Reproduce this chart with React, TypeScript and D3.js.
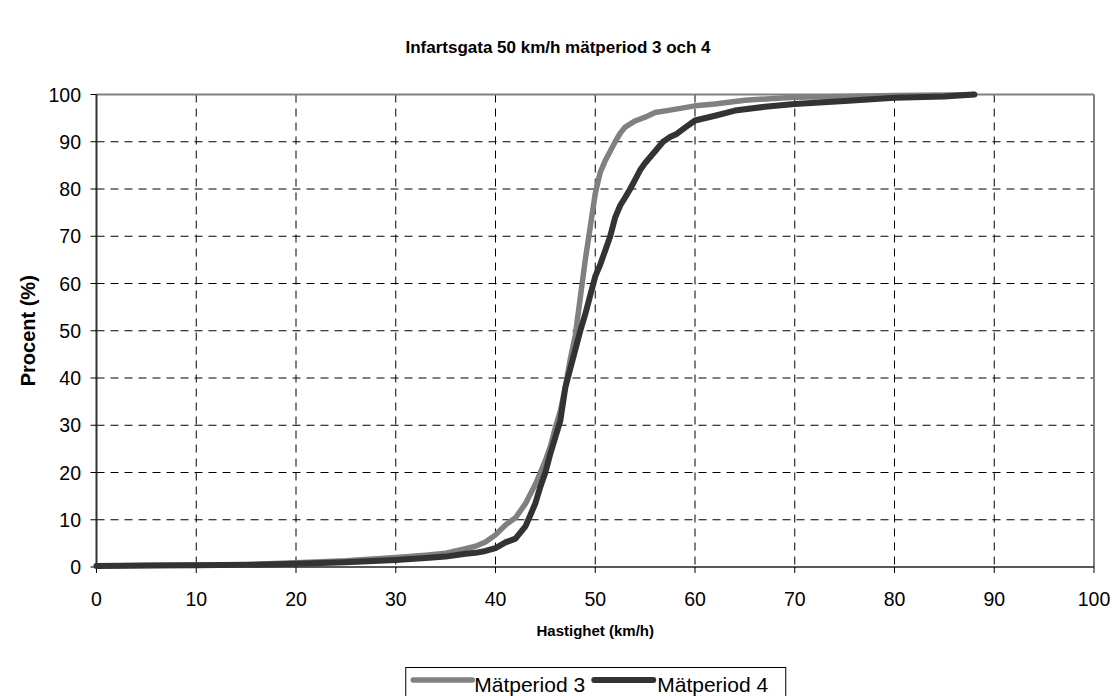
import React from "react";
import * as d3 from "d3";

// Cumulative speed distributions (km/h -> cumulative share in %)
const speedP3 = [0, 5, 10, 15, 20, 25, 30, 33, 35, 37, 38, 39, 40, 41, 42, 43, 44, 44.5, 45, 45.5, 46, 46.5, 47, 47.5, 48, 48.5, 49, 49.5, 50, 50.5, 51, 51.5, 52, 52.5, 53, 54, 55, 56, 57.5, 60, 62, 65, 70, 75, 80, 85, 88];
const shareP3 = [0.2, 0.3, 0.4, 0.5, 0.9, 1.3, 2.0, 2.5, 2.9, 3.9, 4.4, 5.3, 6.8, 8.9, 10.4, 13.4, 17.5, 20, 22.5, 25.5, 29.5, 33, 38, 44, 49, 57, 65, 72, 79, 83.5, 86, 88, 90, 91.8, 93.1, 94.4, 95.2, 96.2, 96.7, 97.6, 98, 98.8, 99.4, 99.6, 99.8, 99.9, 100];

const speedP4 = [0, 5, 10, 15, 20, 25, 30, 33, 35, 37, 38, 39, 40, 41, 42, 43, 43.5, 44, 44.5, 45, 45.5, 46, 46.5, 47, 47.5, 48, 48.5, 49, 49.5, 50, 50.5, 51, 51.5, 52, 52.5, 53, 53.5, 54, 54.5, 55, 56, 56.8, 57.5, 58.2, 59, 60, 62, 64, 67, 70, 75, 80, 85, 88];
const shareP4 = [0.2, 0.3, 0.35, 0.45, 0.7, 1.0, 1.5, 1.9, 2.2, 2.8, 3.0, 3.4, 4.0, 5.2, 6.0, 8.6, 11, 13.5, 17, 20, 24, 27.5, 31, 38, 42, 46, 50, 53.5, 57.5, 61.5, 64, 67, 70, 74, 76.5, 78.2, 80, 82, 84, 85.5, 88, 90, 91, 91.7, 93, 94.5, 95.5, 96.6, 97.4, 98, 98.6, 99.3, 99.6, 100];

const xTicks = [0, 10, 20, 30, 40, 50, 60, 70, 80, 90, 100];
const yTicks = [0, 10, 20, 30, 40, 50, 60, 70, 80, 90, 100];

const seriesNames = ["Mätperiod 3", "Mätperiod 4"];
const seriesColors = ["#808080", "#333333"];
const seriesWidths = [5.5, 6];

const W = 1114;
const H = 696;
const plot = { left: 96.5, right: 1094, top: 94.5, bottom: 567 };
const FONT = "'Liberation Sans', Arial, Helvetica, sans-serif";

export default function App() {
  const x = d3.scaleLinear().domain([0, 100]).range([plot.left, plot.right]);
  const y = d3.scaleLinear().domain([0, 100]).range([plot.bottom, plot.top]);

  const line = d3
    .line<[number, number]>()
    .x((d) => x(d[0]))
    .y((d) => y(d[1]))
    .curve(d3.curveLinear);

  const series: [number, number][][] = [
    speedP3.map((s, i) => [s, shareP3[i]]),
    speedP4.map((s, i) => [s, shareP4[i]]),
  ];

  const cx = (plot.left + plot.right) / 2;
  const legendW = 380;
  const legendX = cx - legendW / 2;

  return (
    <svg
      width={W}
      height={H}
      style={{ position: "absolute", left: 0, top: 0, background: "#fff" }}
      fontFamily={FONT}
    >
      <rect x={0} y={0} width={W} height={H} fill="#fff" />

      {/* title */}
      <text x={558} y={53} textAnchor="middle" fontSize={17} fontWeight="bold" fill="#000">
        Infartsgata 50 km/h mätperiod 3 och 4
      </text>

      {/* grid */}
      {xTicks.slice(1, -1).map((t) => (
        <line
          key={"gx" + t}
          x1={x(t)}
          x2={x(t)}
          y1={plot.top}
          y2={plot.bottom}
          stroke="#000"
          strokeWidth={1}
          strokeDasharray="8,6"
        />
      ))}
      {yTicks.slice(1, -1).map((t) => (
        <line
          key={"gy" + t}
          x1={plot.left}
          x2={plot.right}
          y1={y(t)}
          y2={y(t)}
          stroke="#000"
          strokeWidth={1}
          strokeDasharray="8,6"
        />
      ))}

      {/* frame: top and right edges */}
      <line x1={plot.left} x2={plot.right} y1={plot.top} y2={plot.top} stroke="#808080" strokeWidth={2} />
      <line x1={plot.right} x2={plot.right} y1={plot.top} y2={plot.bottom} stroke="#808080" strokeWidth={2} />

      {/* axes */}
      <line x1={plot.left} x2={plot.left} y1={plot.top} y2={plot.bottom} stroke="#333" strokeWidth={2} />
      <line x1={plot.left} x2={plot.right} y1={plot.bottom} y2={plot.bottom} stroke="#222" strokeWidth={1.5} />

      {yTicks.map((t) => (
        <g key={"ty" + t}>
          <line x1={plot.left - 6} x2={plot.left} y1={y(t)} y2={y(t)} stroke="#000" strokeWidth={1} />
          <text x={81} y={y(t) + 7} textAnchor="end" fontSize={19.5} fill="#000">
            {t}
          </text>
        </g>
      ))}
      {xTicks.map((t) => (
        <g key={"tx" + t}>
          <line x1={x(t)} x2={x(t)} y1={plot.bottom} y2={plot.bottom + 6} stroke="#000" strokeWidth={1} />
          <text x={x(t)} y={606} textAnchor="middle" fontSize={19.5} fill="#000">
            {t}
          </text>
        </g>
      ))}

      {/* axis titles */}
      <text x={cx} y={636} textAnchor="middle" fontSize={15} fontWeight="bold" fill="#000">
        Hastighet (km/h)
      </text>
      <text
        transform={`translate(35, ${(plot.top + plot.bottom) / 2}) rotate(-90)`}
        textAnchor="middle"
        fontSize={20}
        fontWeight="bold"
        fill="#000"
      >
        Procent (%)
      </text>

      {/* curves */}
      {series.map((pts, i) => (
        <path
          key={"s" + i}
          d={line(pts) || ""}
          fill="none"
          stroke={seriesColors[i]}
          strokeWidth={seriesWidths[i]}
          strokeLinejoin="round"
          strokeLinecap="round"
        />
      ))}

      {/* legend */}
      <rect x={legendX + 0.5} y={667.5} width={legendW} height={40} fill="#fff" stroke="#000" strokeWidth={1} />
      <line x1={legendX + 8} x2={legendX + 67} y1={680} y2={680} stroke={seriesColors[0]} strokeWidth={seriesWidths[0]} strokeLinecap="round" />
      <text x={legendX + 69} y={692} fontSize={21} fill="#000">
        {seriesNames[0]}
      </text>
      <line x1={legendX + 189} x2={legendX + 248} y1={680} y2={680} stroke={seriesColors[1]} strokeWidth={seriesWidths[1]} strokeLinecap="round" />
      <text x={legendX + 252} y={692} fontSize={21} fill="#000">
        {seriesNames[1]}
      </text>
    </svg>
  );
}
